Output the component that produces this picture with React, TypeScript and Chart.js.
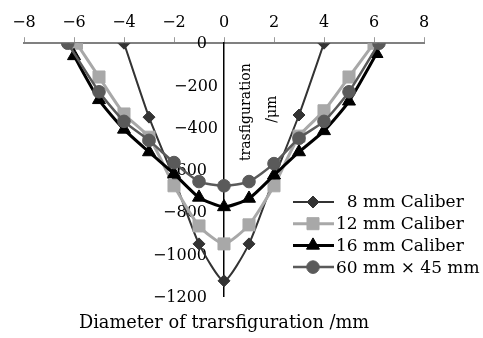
import React, { useEffect, useRef } from 'react';
import { Chart, registerables } from 'chart.js';
import { drawPoint } from 'chart.js/helpers';

Chart.register(...registerables);

const seriesNames = ['8 mm Caliber', '12 mm Caliber', '16 mm Caliber', '60 mm \u00d7 45 mm'];

const x8 = [-4, -3, -2, -1, 0, 1, 2, 3, 4];
const y8 = [0, -350, -640, -950, -1125, -950, -640, -340, 0];

const x12 = [-5.9, -5, -4, -3, -2, -1, 0, 1, 2, 3, 4, 5, 6];
const y12 = [0, -160, -335, -445, -675, -865, -950, -860, -675, -440, -320, -160, 0];

const x16 = [-6, -5, -4, -3, -2, -1, 0, 1, 2, 3, 4, 5, 6.1];
const y16 = [-60, -268, -408, -515, -618, -730, -775, -735, -625, -515, -415, -275, -50];

const x60 = [-6.25, -5, -4, -3, -2, -1, 0, 1, 2, 3, 4, 5, 6.2];
const y60 = [0, -230, -370, -460, -565, -655, -675, -655, -570, -450, -370, -230, 0];

const xMin = -8;
const xMax = 8;
const xStep = 2;
const yMin = -1200;
const yMax = 0;
const yStep = 200;

const xTitle = 'Diameter of trarsfiguration /mm';
const yTitleLines = ['trasfiguration', '/\u03bcm'];

const colors = ['#333333', '#a8a8a8', '#000000', '#5a5a5a'];
const pointStyles = ['rectRot', 'rect', 'triangle', 'circle'];
const pointRadii = [6, 8.5, 7.5, 6.3];
const lineWidths = [2, 3, 3, 2.5];

const FONT = '"DejaVu Serif", serif';
const fmt = (v: number) => String(v).replace('-', '\u2212');

const zip = (xs: number[], ys: number[]) => xs.map((x, i) => ({ x, y: ys[i] }));

const overlayPlugin = {
  id: 'overlay',
  beforeDatasetsDraw(chart: any) {
    const ctx = chart.ctx;
    const xs = chart.scales.x;
    const ys = chart.scales.y;
    const x0 = xs.getPixelForValue(0);
    ctx.save();
    ctx.font = `16px ${FONT}`;
    ctx.fillStyle = '#000';
    ctx.textAlign = 'right';
    ctx.textBaseline = 'middle';
    ys.ticks.forEach((t: any) => {
      const gap = t.value === -200 || t.value === -400 ? 6 : 17;
      ctx.fillText(fmt(t.value), x0 - gap, ys.getPixelForValue(t.value) + 1);
    });
    // y title (rotated)
    ctx.font = `14px ${FONT}`;
    ctx.textAlign = 'center';
    ctx.textBaseline = 'middle';
    const top = chart.chartArea.top;
    ctx.save();
    ctx.translate(x0 + 22, top + 69);
    ctx.rotate(-Math.PI / 2);
    ctx.fillText(yTitleLines[0], 0, 0);
    ctx.restore();
    ctx.save();
    ctx.translate(x0 + 48, top + 66);
    ctx.rotate(-Math.PI / 2);
    ctx.fillText(yTitleLines[1], 0, 0);
    ctx.restore();
    ctx.restore();
  },
  afterDraw(chart: any) {
    const ctx = chart.ctx;
    ctx.save();
    ctx.font = `17px ${FONT}`;
    ctx.textAlign = 'left';
    ctx.textBaseline = 'middle';
    const digitW = ctx.measureText('1').width;
    seriesNames.forEach((name, i) => {
      const y = 202 + i * 21.7;
      ctx.strokeStyle = colors[i];
      ctx.lineWidth = lineWidths[i];
      ctx.beginPath();
      ctx.moveTo(293, y);
      ctx.lineTo(334, y);
      ctx.stroke();
      ctx.fillStyle = colors[i];
      ctx.lineWidth = 1;
      drawPoint(ctx, { pointStyle: pointStyles[i], radius: pointRadii[i], borderWidth: 1, rotation: 0 } as any, 313, y);
      ctx.fillStyle = '#000';
      ctx.fillText(name, 336 + (i === 0 ? digitW : 0), y + 1);
    });
    ctx.restore();
  },
};

export default function App() {
  const ref = useRef<HTMLCanvasElement | null>(null);
  useEffect(() => {
    if (!ref.current) return;
    const series = [zip(x8, y8), zip(x12, y12), zip(x16, y16), zip(x60, y60)];
    const chart = new Chart(ref.current, {
      type: 'line',
      data: {
        datasets: series.map((d, i) => ({
          label: seriesNames[i],
          data: d,
          borderColor: colors[i],
          backgroundColor: colors[i],
          pointBackgroundColor: colors[i],
          pointBorderColor: colors[i],
          pointStyle: pointStyles[i] as any,
          pointRadius: pointRadii[i],
          pointBorderWidth: 1,
          borderWidth: lineWidths[i],
          tension: 0.2,
          fill: false,
          order: 3 - i,
        })),
      },
      options: {
        animation: false,
        responsive: true,
        maintainAspectRatio: false,
        devicePixelRatio: 1,
        layout: { padding: { left: 24, right: 59, top: 8, bottom: 0 } },
        plugins: {
          legend: { display: false },
          tooltip: { enabled: false },
          title: {
            display: true,
            text: xTitle,
            position: 'bottom',
            fullSize: false,
            color: '#000',
            font: { family: 'DejaVu Serif', size: 17.75, weight: 'normal' },
            padding: { top: 16, bottom: 4 },
          },
        },
        scales: {
          x: {
            type: 'linear',
            position: 'top',
            min: xMin,
            max: xMax,
            ticks: {
              stepSize: xStep,
              color: '#000',
              padding: 5,
              font: { family: 'DejaVu Serif', size: 16 },
              callback: (v: any) => fmt(Number(v)),
            },
            grid: { display: true, drawOnChartArea: false, drawTicks: true, tickLength: 6, color: '#9a9a9a', lineWidth: 1 },
            border: { display: true, color: '#808080', width: 2 },
          },
          y: {
            type: 'linear',
            position: { x: 0 } as any,
            min: yMin,
            max: yMax,
            ticks: { display: false, stepSize: yStep },
            grid: { display: false },
            border: { display: true, color: '#000', width: 1.5 },
          },
        },
      },
      plugins: [overlayPlugin],
    });
    return () => chart.destroy();
  }, []);
  return (
    <div style={{ position: 'fixed', left: 0, top: 0, width: 483, height: 338, background: '#fff' }}>
      <canvas ref={ref} />
    </div>
  );
}
